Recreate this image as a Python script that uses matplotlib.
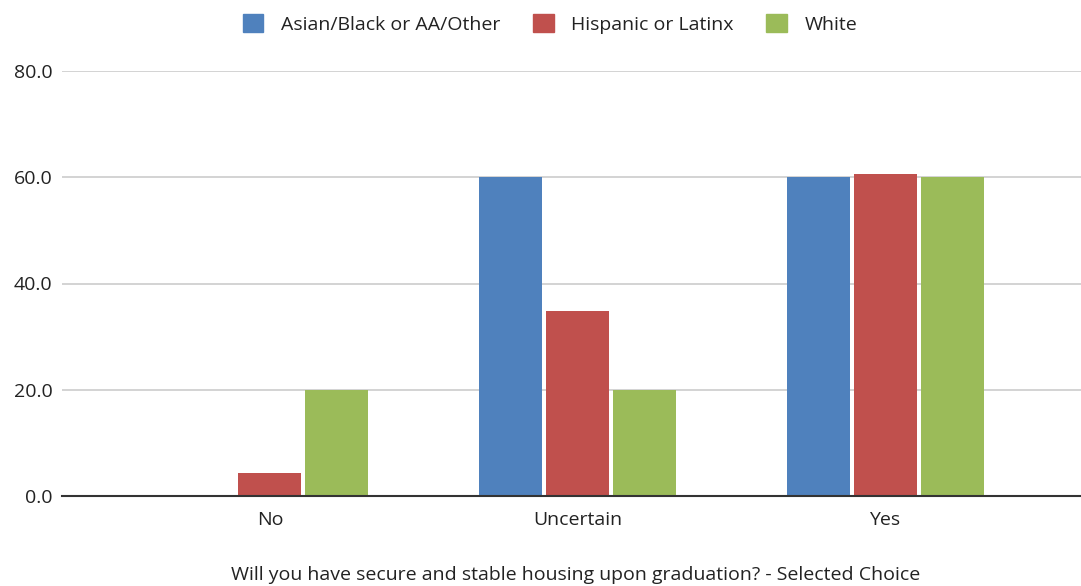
import matplotlib.pyplot as plt
import numpy as np
from matplotlib.patches import Patch

plt.rcParams['font.family'] = ['Open Sans', 'DejaVu Sans']

# survey answers and share of respondents (%) per group
CATEGORIES = ["No", "Uncertain", "Yes"]
GROUPS = ["Asian/Black or AA/Other", "Hispanic or Latinx", "White"]
ASIAN_BLACK_OTHER = [0.0, 60.0, 60.0]
HISPANIC_LATINX = [4.3, 34.8, 60.6]
WHITE = [20.0, 20.0, 60.0]
COLORS = ["#4F81BD", "#C0504D", "#9BBB59"]
TEXT = "#222222"

series = [ASIAN_BLACK_OTHER, HISPANIC_LATINX, WHITE]

fig = plt.figure(figsize=(10.81, 5.86), dpi=100)
ax = fig.add_axes([62 / 1081, 90 / 586, 1 - 62 / 1081, 425 / 586])

x = np.arange(len(CATEGORIES))
width = 63 / 307.5
step = 67 / 307.5
for i, (vals, color) in enumerate(zip(series, COLORS)):
    ax.bar(x + (i - 1) * step, vals, width=width, color=color, zorder=3)

ax.set_ylim(0, 80)
ax.set_xlim(-0.676, 2.637)
ax.set_yticks([0, 20, 40, 60, 80])
ax.set_yticklabels([f"{v:.1f}" for v in [0, 20, 40, 60, 80]], fontsize=14, color=TEXT)
ax.set_xticks(x)
ax.set_xticklabels(CATEGORIES, fontsize=14, color=TEXT)
ax.tick_params(axis="both", length=0)
ax.tick_params(axis="x", pad=11)
ax.tick_params(axis="y", pad=7)

ax.grid(axis="y", color="#CCCCCC", linewidth=1.2, zorder=0)
for s in ["top", "right", "left"]:
    ax.spines[s].set_visible(False)
ax.spines["bottom"].set_color("#333333")
ax.spines["bottom"].set_linewidth(1.5)
ax.spines["bottom"].set_zorder(4)

fig.text(576 / 1081, 1 - 575 / 586,
         "Will you have secure and stable housing upon graduation? - Selected Choice",
         ha="center", va="center", fontsize=14, color=TEXT)

handles = [Patch(facecolor=c, edgecolor=c) for c in COLORS]
fig.legend(handles, GROUPS, loc="center", bbox_to_anchor=(550 / 1081, 1 - 24 / 586),
           ncol=3, frameon=False, fontsize=14, handlelength=1.07, handleheight=1.07,
           columnspacing=1.65, handletextpad=0.92, labelcolor=TEXT)

fig.savefig("out.png", dpi=100)
